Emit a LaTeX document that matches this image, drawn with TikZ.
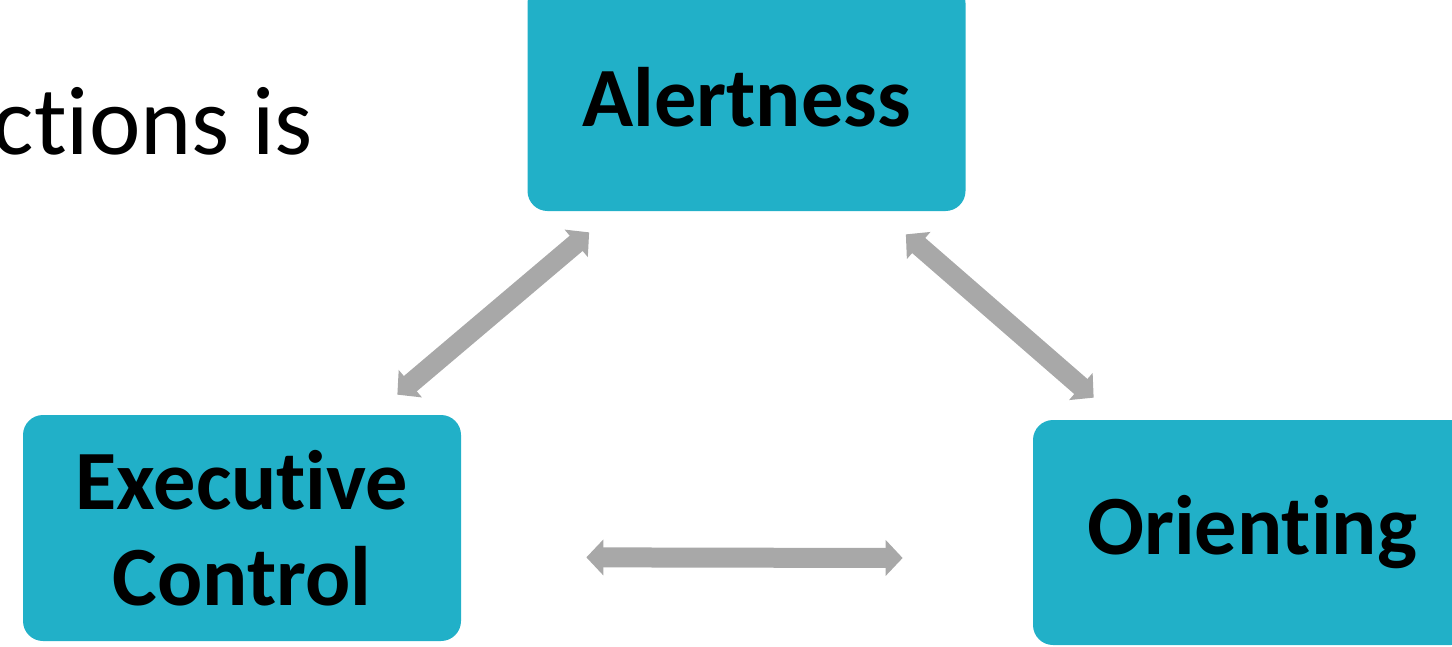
\documentclass[tikz,border=0pt]{standalone}
\usepackage{fontspec}
\setmainfont{Carlito}[Ligatures={NoCommon,NoRequired,NoContextual}]
\usetikzlibrary{arrows.meta}
\definecolor{boxcyan}{RGB}{33,176,200}
\definecolor{arrowgray}{RGB}{168,168,168}
\tikzset{
  attbox/.style={rectangle, rounded corners=0.4cm, fill=boxcyan, inner sep=0pt,
    minimum width=8.76cm, minimum height=4.5cm, align=center,
    font=\fontsize{48}{54.6}\selectfont\bfseries},
  linkarrow/.style={draw=arrowgray, line width=0.4cm,
    {Triangle[width=0.7cm, length=0.34cm]}-{Triangle[width=0.7cm, length=0.34cm]}}
}
\begin{document}
\begin{tikzpicture}
        \useasboundingbox (0,0) rectangle (29.04,-12.92);

        \node[anchor=base east, inner sep=0pt, font=\fontsize{55.5}{62}\selectfont] at (6.26,-3.08) (title) {ctions is};

        \node[attbox, minimum height=4.56cm] at (14.93,-1.94)  (alert)  {Alertness};
        \node[attbox, minimum height=4.52cm] at (4.84,-10.56)  (exec)   {Executive\\Control};
        \node[attbox] at (25.04,-10.65)  (orient) {Orienting};

        \draw[linkarrow]  ([shift={(1.24,-0.42)}]alert.south west) -- ([shift={(-1.28,0.4)}]exec.north east);
        \draw[linkarrow]  ([shift={(-1.2,-0.46)}]alert.south east) -- ([shift={(1.22,0.44)}]orient.north west);
        \draw[linkarrow]  ([shift={(2.5,1.68)}]exec.south east) -- ([shift={(-2.6,-0.51)}]orient.west);
      \end{tikzpicture}
\end{document}
